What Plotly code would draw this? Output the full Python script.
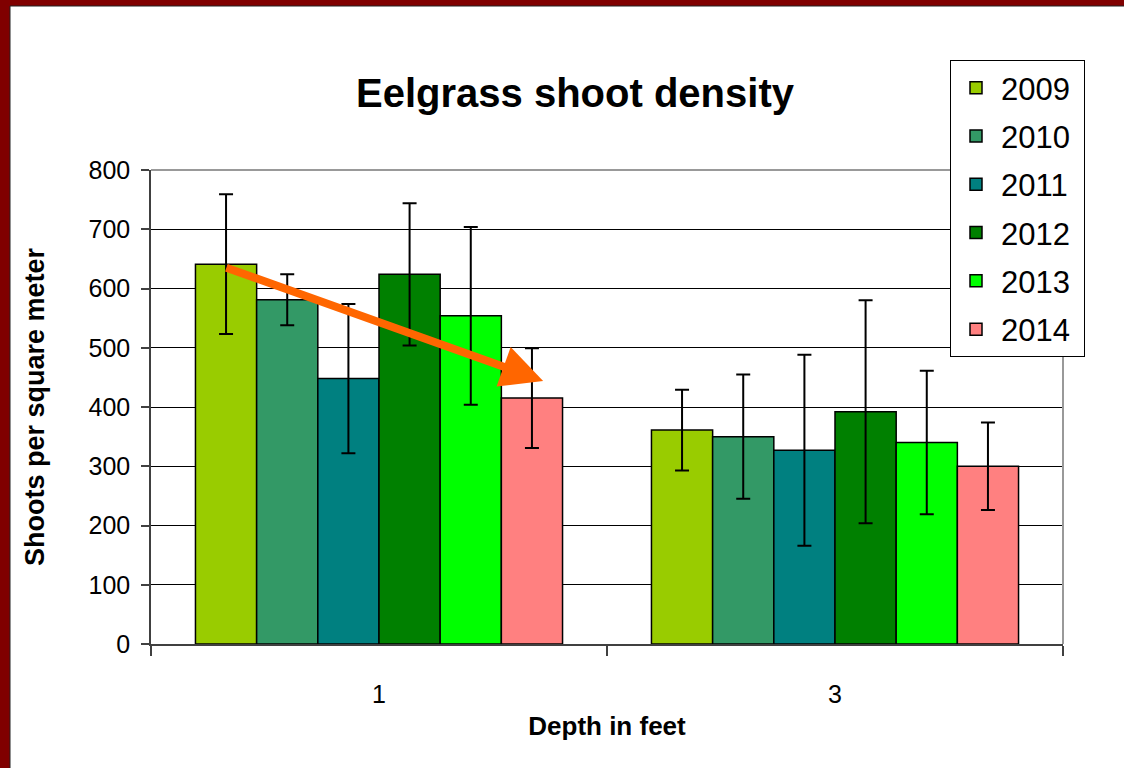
import plotly.graph_objects as go

depths = ["1", "3"]
years = ["2009", "2010", "2011", "2012", "2013", "2014"]
colors = ["#99CC00", "#339966", "#008080", "#008000", "#00FF00", "#FF8080"]
density = {
    "2009": [641, 361],
    "2010": [581, 350],
    "2011": [448, 327],
    "2012": [624, 392],
    "2013": [554, 340],
    "2014": [415, 300],
}
err = {
    "2009": [118, 68],
    "2010": [43, 105],
    "2011": [126, 161],
    "2012": [120, 188],
    "2013": [150, 121],
    "2014": [84, 74],
}

FONT = "Liberation Sans, Arial, sans-serif"

fig = go.Figure()
for yr, col in zip(years, colors):
    fig.add_trace(go.Bar(
        name=yr + "\u00a0", x=depths, y=density[yr], legendgroup=yr,
        marker=dict(color=col, line=dict(color="#000000", width=1.5)),
        error_y=dict(type="data", array=err[yr], visible=True,
                     color="#000000", thickness=2, width=7),
    ))

L, R, T, B = 151, 1124 - 1063, 170, 768 - 644
PW, PH = 1124 - L - R, 768 - T - B

fig.update_layout(
    width=1124, height=768,
    margin=dict(l=L, r=R, t=T, b=B),
    paper_bgcolor="#800000",
    plot_bgcolor="#FFFFFF",
    barmode="group", bargap=0.195, bargroupgap=0,
    font=dict(family=FONT, color="#000000"),
    title=dict(text="<b>Eelgrass shoot density</b>", x=575 / 1124, xref="container",
               xanchor="center", y=1 - 93 / 768, yref="container", yanchor="middle",
               font=dict(size=40, family=FONT, color="#000000")),
    xaxis=dict(
        type="category", range=[-0.5, 1.5], tickson="boundaries",
        ticks="outside", ticklen=10, tickcolor="#404040", tickwidth=1.5,
        showline=True, linecolor="#404040", linewidth=1.5,
        showgrid=False, tickfont=dict(size=25), ticklabelstandoff=27,
        title=dict(text="<b>Depth in feet</b>", font=dict(size=26), standoff=10),
    ),
    yaxis=dict(
        range=[0, 800], dtick=100, ticks="outside", ticklen=8,
        tickcolor="#404040", tickwidth=1.5,
        showline=True, linecolor="#404040", linewidth=1.5,
        showgrid=True, gridcolor="#000000", gridwidth=1,
        tickfont=dict(size=25), ticklabelstandoff=6,
        title=dict(text="<b>Shoots per square meter</b>", font=dict(size=27), standoff=36),
        zeroline=False,
    ),
    legend=dict(
        x=(950 - L) / PW, y=(644 - 60) / PH, xanchor="left", yanchor="top",
        bgcolor="#FFFFFF", bordercolor="#000000", borderwidth=1,
        font=dict(size=31, family=FONT), traceorder="grouped", tracegroupgap=5,
        itemwidth=40,
    ),
    showlegend=True,
)

# white page inside dark-red frame
fig.add_shape(type="rect", xref="paper", yref="paper", layer="below",
              x0=(10 - L) / PW, x1=(1130 - L) / PW,
              y0=(644 - 775) / PH, y1=(644 - 6) / PH,
              fillcolor="#FFFFFF", line=dict(color="#222222", width=1))
# gray plot-area border on top and right
fig.add_shape(type="path", xref="paper", yref="paper", layer="above",
              path="M 0,1 L 1,1 L 1,0", line=dict(color="#999999", width=2))

# orange trend arrow
fig.add_annotation(
    x=0.36, y=444, ax=-0.338, ay=636, xref="x", yref="y", axref="x", ayref="y",
    text="", showarrow=True, arrowcolor="#FF6600", arrowwidth=8,
    arrowhead=2, arrowsize=1.05, standoff=0,
)

fig.write_html("out.html", config={"displayModeBar": False},
               post_script="document.body.style.margin='0';")
